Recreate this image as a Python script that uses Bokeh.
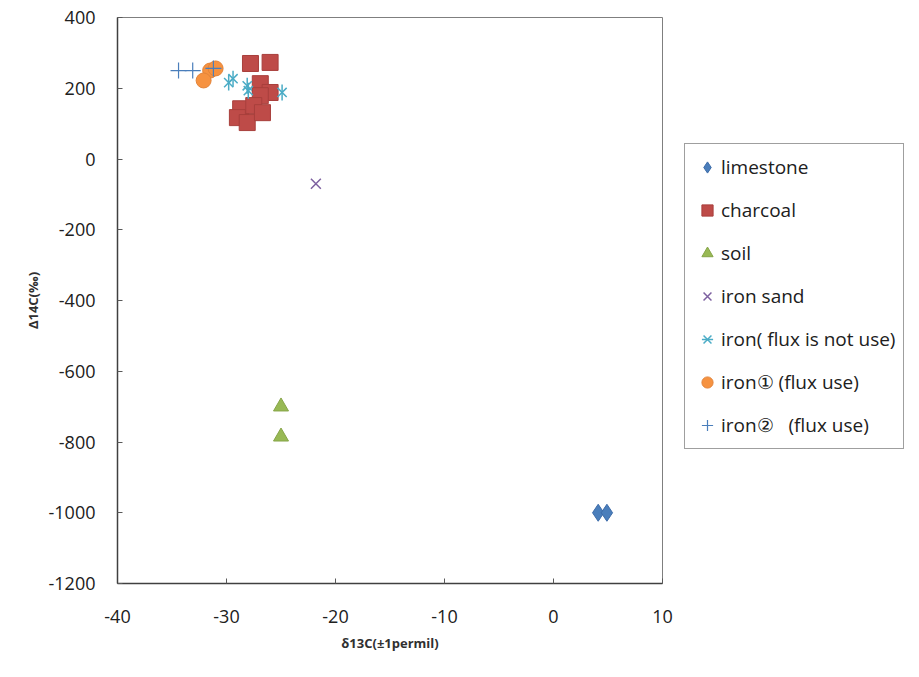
from bokeh.plotting import figure
from bokeh.models import Legend, LegendItem, FixedTicker, Range1d, CustomJSTickFormatter
from bokeh.embed import file_html
from bokeh.resources import INLINE
import math

# data
limestone_x = [4.1, 4.9]
limestone_y = [-1000, -1000]
charcoal_x = [-27.8, -26.0, -26.9, -26.0, -26.9, -28.7, -29.0, -28.1, -27.5, -26.7]
charcoal_y = [270, 273, 213, 188, 179, 142, 117, 103, 151, 131]
soil_x = [-25.0, -25.0]
soil_y = [-700, -785]
ironsand_x = [-21.8]
ironsand_y = [-70]
iron_nf_x = [-29.8, -29.4, -28.1, -28.0, -24.9]
iron_nf_y = [216, 227, 207, 193, 188]
iron1_x = [-31.5, -32.1, -31.0]
iron1_y = [250, 222, 256]
iron2_x = [-34.4, -33.1, -31.2]
iron2_y = [250, 250, 256]

x_ticks = [-40, -30, -20, -10, 0, 10]
y_ticks = [400, 200, 0, -200, -400, -600, -800, -1000, -1200]

FONT = "Open Sans"

p = figure(output_backend="svg", toolbar_location=None,
           frame_width=545, frame_height=566,
           min_border_left=117, min_border_top=17, min_border_right=0,
           min_border_bottom=80,
           x_range=Range1d(-40, 10), y_range=Range1d(-1200, 400))
p.background_fill_color = "white"
p.border_fill_color = "white"
p.outline_line_color = "#7f7f7f"
p.outline_line_width = 1
p.xgrid.visible = False
p.ygrid.visible = False

fmt = CustomJSTickFormatter(code="return tick.toString();")
for ax in (p.xaxis[0], p.yaxis[0]):
    ax.axis_line_color = "#404040"
    ax.axis_line_width = 1.5
    ax.major_tick_in = 5
    ax.major_tick_out = 0
    ax.minor_tick_line_color = None
    ax.major_tick_line_color = "#595959"
    ax.major_label_text_font = FONT
    ax.major_label_text_font_size = "18px"
    ax.major_label_text_color = "#202020"
    ax.axis_label_text_font = FONT
    ax.axis_label_text_font_size = "13px"
    ax.axis_label_text_font_style = "bold"
    ax.axis_label_text_color = "#303030"
    ax.formatter = fmt

p.xaxis.ticker = FixedTicker(ticks=x_ticks)
p.yaxis.ticker = FixedTicker(ticks=y_ticks)
p.xaxis.major_label_standoff = 26
p.yaxis.major_label_standoff = 22
p.xaxis.axis_label = "δ13C(±1permil)"
p.yaxis.axis_label = "Δ14C(‰)"
p.xaxis.axis_label_standoff = 8
p.yaxis.axis_label_standoff = 4

r_lime = p.scatter(limestone_x, limestone_y, marker="diamond", size=17,
                   fill_color="#4A7EBB", line_color="#3C6BA8")
r_char = p.scatter(charcoal_x, charcoal_y, marker="square", size=16,
                   fill_color="#BE4B48", line_color="#A83F3C")
r_soil = p.scatter(soil_x, soil_y, marker="triangle", size=15,
                   fill_color="#98B954", line_color="#86A548")
r_sand = p.scatter(ironsand_x, ironsand_y, marker="x", size=14,
                   line_color="#7D60A0", line_width=1.5)
r_nf1 = p.scatter(iron_nf_x, iron_nf_y, marker="x", size=13,
                  line_color="#4BACC6", line_width=1.5)
r_nf2 = p.scatter(iron_nf_x, iron_nf_y, marker="dash", size=16, angle=math.pi / 2,
                  line_color="#4BACC6", line_width=1.5)
r_i1 = p.scatter(iron1_x, iron1_y, marker="circle", size=15,
                 fill_color="#F69240", line_color="#E3843A")
r_i2 = p.scatter(iron2_x, iron2_y, marker="cross", size=16,
                 line_color="#4A7EBB", line_width=1.2)

legend = Legend(items=[
    LegendItem(label="limestone", renderers=[r_lime]),
    LegendItem(label="charcoal", renderers=[r_char]),
    LegendItem(label="soil", renderers=[r_soil]),
    LegendItem(label="iron sand", renderers=[r_sand]),
    LegendItem(label="iron( flux is not use)", renderers=[r_nf1, r_nf2]),
    LegendItem(label="iron① (flux use)", renderers=[r_i1]),
    LegendItem(label="iron②   (flux use)", renderers=[r_i2]),
], location=(22, 134))
legend.label_text_font = FONT
legend.label_text_font_size = "19px"
legend.label_text_color = "#202020"
legend.glyph_width = 28
legend.glyph_height = 30
legend.label_height = 30
legend.label_standoff = 0
legend.spacing = 13
legend.padding = 8
legend.margin = 0
legend.border_line_color = "#404040"
legend.border_line_width = 1.2
legend.background_fill_color = "white"
legend.background_fill_alpha = 1
p.add_layout(legend, "right")

open("out.html", "w").write(file_html(p, INLINE))
